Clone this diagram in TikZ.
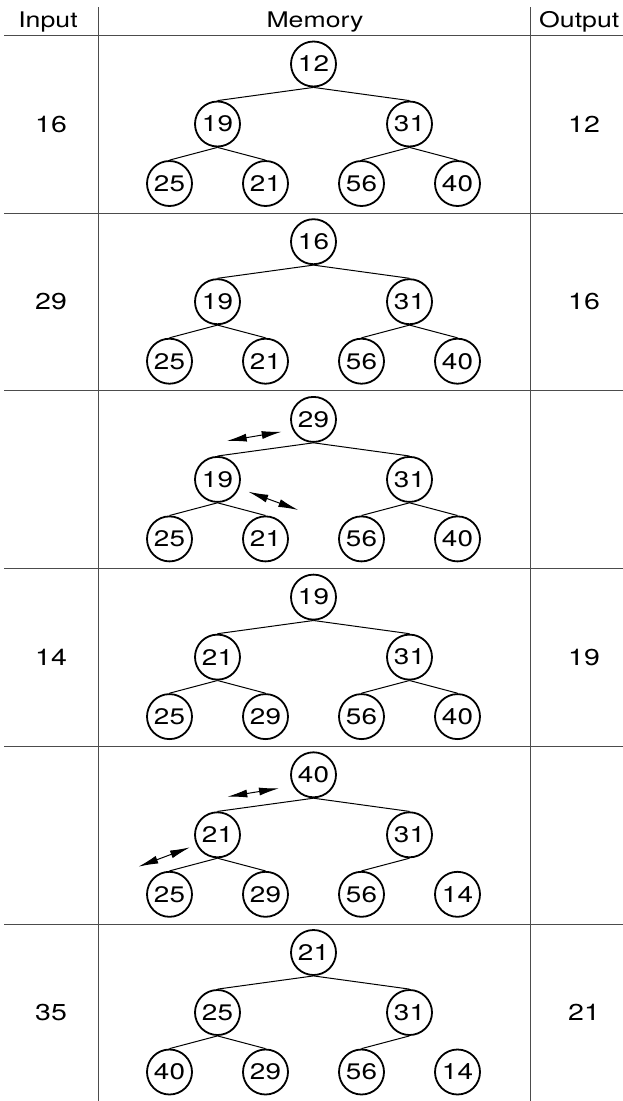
\documentclass[tikz,border=0pt]{standalone}
\usepackage{fontspec}
\setmainfont{TeX Gyre Heros}[FakeStretch=1.24]
\usetikzlibrary{arrows.meta}
\begin{document}
\begin{tikzpicture}[x=1pt,y=-1pt,
  rule/.style={draw=black!70,line width=1pt},
  hnode/.style={circle,draw,line width=1.8pt,minimum size=45pt,inner sep=0pt,font=\fontsize{22.5}{27}\selectfont},
  treeedge/.style={line width=1pt},
  swaparrow/.style={line width=1pt,{Latex[length=20pt,width=8pt]}-{Latex[length=20pt,width=8pt]}},
  headtext/.style={anchor=base,font=\fontsize{21.5}{26}\selectfont,inner sep=0pt},
  sidetext/.style={font=\fontsize{23}{28}\selectfont,inner sep=0pt}]
\useasboundingbox (0,0) rectangle (623,1101);
% table rules
\draw[rule] (98.3,7) -- (98.3,1101);
\draw[rule] (530,7) -- (530,1101);
\foreach \k in {0,...,5}{
  \pgfmathsetmacro\T{35.5+177.7*\k}
  \draw[rule] (4,\T) -- (623,\T);
}
% header
\node[headtext] (hin) at (48,27) {Input};
\node[headtext] (hmem) at (315,27) {Memory};
\node[headtext,anchor=base west] (hout) at (539,27) {Output};
% trees
\foreach \i/\a/\b/\c/\d/\e/\f/\g/\full in {
  1/12/19/31/25/21/56/40/1,
  2/16/19/31/25/21/56/40/1,
  3/29/19/31/25/21/56/40/1,
  4/19/21/31/25/29/56/40/1,
  5/40/21/31/25/29/56/14/0,
  6/21/25/31/40/29/56/14/0}{
  \pgfmathsetmacro\T{35.5+177.7*(\i-1)}
  \node[hnode] (n\i-1) at (313.5,\T+28.5) {\a};
  \node[hnode] (n\i-2) at (217.5,\T+88.5) {\b};
  \node[hnode] (n\i-3) at (409.5,\T+88.5) {\c};
  \node[hnode] (n\i-4) at (169.5,\T+148) {\d};
  \node[hnode] (n\i-5) at (265.5,\T+148) {\e};
  \node[hnode] (n\i-6) at (361.5,\T+148) {\f};
  \node[hnode] (n\i-7) at (457.5,\T+148) {\g};
  \draw[treeedge] (n\i-1.south) -- (n\i-2.north);
  \draw[treeedge] (n\i-1.south) -- (n\i-3.north);
  \draw[treeedge] (n\i-2.south) -- (n\i-4.north);
  \draw[treeedge] (n\i-2.south) -- (n\i-5.north);
  \draw[treeedge] (n\i-3.south) -- (n\i-6.north);
  \ifnum\full=1
    \draw[treeedge] (n\i-3.south) -- (n\i-7.north);
  \fi
}
% input / output
\foreach \i/\inp/\out in {1/16/12, 2/29/16, 4/14/19, 6/35/21}{
  \pgfmathsetmacro\T{35.5+177.7*(\i-1)}
  \node[sidetext] (in\i) at (51,\T+88.7) {\inp};
  \node[sidetext] (out\i) at (584,\T+88.7) {\out};
}
% swap arrows
\coordinate (s3a) at (226.7,441);
\coordinate (s3b) at (281.7,431.7);
\coordinate (s3c) at (248.3,491.7);
\coordinate (s3d) at (298.3,510);
\coordinate (s5a) at (227.3,796.7);
\coordinate (s5b) at (279,788.3);
\coordinate (s5c) at (138.3,866.7);
\coordinate (s5d) at (190,847.3);
\draw[swaparrow] (s3a) -- (s3b);
\draw[swaparrow] (s3c) -- (s3d);
\draw[swaparrow] (s5a) -- (s5b);
\draw[swaparrow] (s5c) -- (s5d);
\end{tikzpicture}
\end{document}
